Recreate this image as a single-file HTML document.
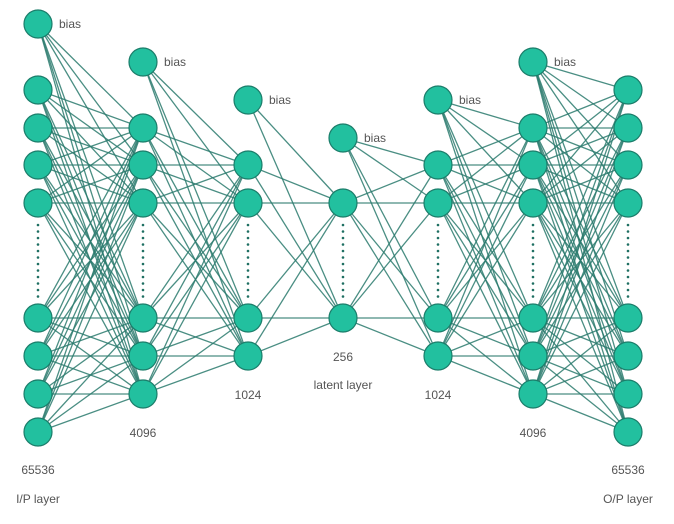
<!DOCTYPE html>
<html><head><meta charset="utf-8"><style>
body{margin:0;background:#fff;}
svg{display:block;font-family:"Liberation Sans",sans-serif;}
</style></head><body>
<svg id="net" width="674" height="524" viewBox="0 0 674 524" xmlns="http://www.w3.org/2000/svg"></svg>
<script>
const layerX=[38,143,248,343,438,533,628];
const layerNodes=[[90,128,165,203,318,356,394,432],[128,165,203,318,356,394],[165,203,318,356],[203,318],[165,203,318,356],[128,165,203,318,356,394],[90,128,165,203,318,356,394,432]];
const biasY=[24,62,100,138,100,62,null];
const sizeLabels=["65536","4096","1024","256","1024","4096","65536"];
const sizeLabelY=[474,437,399,361,399,437,474];
const layerNames=[[0,"I/P layer",503],[3,"latent layer",389],[6,"O/P layer",503]];
const svg=document.getElementById('net');
const NS='http://www.w3.org/2000/svg';
function mk(t,a){const e=document.createElementNS(NS,t);for(const k in a)e.setAttribute(k,a[k]);svg.appendChild(e);return e;}
for(let l=0;l<layerX.length-1;l++){
  const srcs=layerNodes[l].slice();
  if(biasY[l]!=null)srcs.push(biasY[l]);
  for(const y1 of srcs)for(const y2 of layerNodes[l+1]){
    const e=mk('line',{x1:layerX[l],y1:y1,x2:layerX[l+1],y2:y2,stroke:'#2a7a6d','stroke-width':1.3,'stroke-opacity':0.85});
    
    
  }
}
for(let l=0;l<layerX.length;l++){
  const n=layerNodes[l];let top=null,bot=null;
  for(let i=0;i<n.length-1;i++)if(n[i+1]-n[i]>60){top=n[i];bot=n[i+1];}
  if(top!=null){for(let y=top+22;y<bot-16;y+=6.5){const d=mk('circle',{cx:layerX[l],cy:y,r:1.3,fill:'#1e6f62'});
    
    }}
}
for(let l=0;l<layerX.length;l++){
  for(const y of layerNodes[l]){const c=mk('circle',{cx:layerX[l],cy:y,r:14,fill:'#22c09f',stroke:'#1b7d6a','stroke-width':1.2});
    
    }
  if(biasY[l]!=null){
    const c=mk('circle',{cx:layerX[l],cy:biasY[l],r:14,fill:'#22c09f',stroke:'#1b7d6a','stroke-width':1.2});
    
    
    const t=mk('text',{x:layerX[l]+21,y:biasY[l]+4,'font-size':12,fill:'#555'});t.textContent='bias';
    
    
  }
  const s=mk('text',{x:layerX[l],y:sizeLabelY[l],'font-size':12,fill:'#555','text-anchor':'middle'});s.textContent=sizeLabels[l];
  
  
}
for(const [l,name,y] of layerNames){
  const t=mk('text',{x:layerX[l],y:y,'font-size':12,fill:'#555','text-anchor':'middle'});t.textContent=name;
  
  
}
</script>
</body></html>
